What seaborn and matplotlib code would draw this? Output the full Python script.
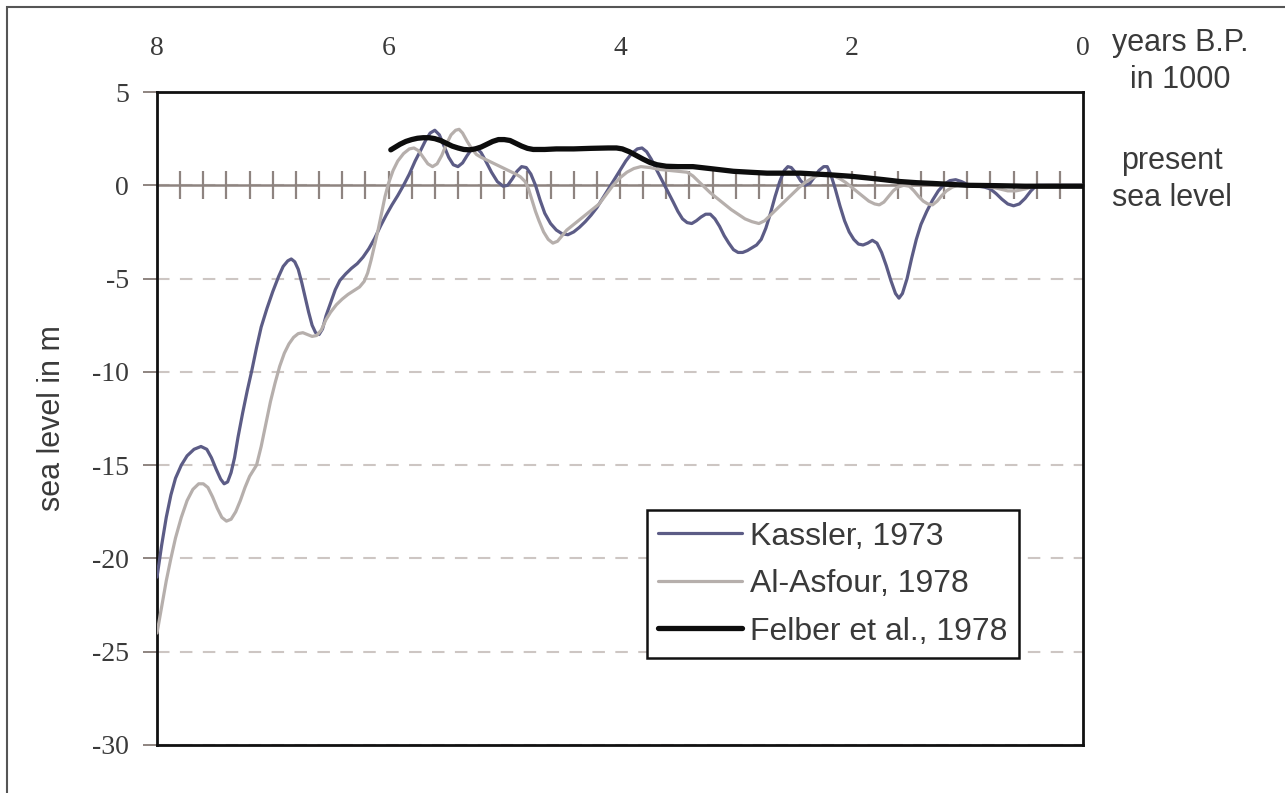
import numpy as np
import pandas as pd
import matplotlib
matplotlib.use("Agg")
import matplotlib.pyplot as plt
from matplotlib.patches import Rectangle
import seaborn as sns

# Holocene sea-level curves (age in 1000 years B.P., level in m relative to present)
kassler_ka = [8.00, 7.96, 7.92, 7.88, 7.84, 7.79, 7.74, 7.68, 7.62, 7.57, 7.53, 7.49,
              7.45, 7.42, 7.39, 7.36, 7.33, 7.30, 7.26, 7.22, 7.18, 7.14, 7.10, 7.05,
              7.00, 6.95, 6.91, 6.87, 6.84, 6.81, 6.78, 6.75, 6.72, 6.69, 6.66, 6.63,
              6.60, 6.57, 6.54, 6.50, 6.46, 6.42, 6.37, 6.32, 6.27, 6.22, 6.17, 6.12,
              6.07, 6.02, 5.97, 5.92, 5.87, 5.82, 5.77, 5.72, 5.68, 5.64, 5.60, 5.56,
              5.52, 5.48, 5.44, 5.40, 5.36, 5.32, 5.28, 5.24, 5.20, 5.16, 5.11, 5.06,
              5.01, 4.97, 4.93, 4.89, 4.85, 4.81, 4.77, 4.73, 4.69, 4.65, 4.60, 4.55,
              4.50, 4.45, 4.40, 4.35, 4.30, 4.25, 4.20, 4.15, 4.10, 4.05, 4.00, 3.95,
              3.90, 3.85, 3.81, 3.77, 3.73, 3.69, 3.64, 3.59, 3.54, 3.50, 3.46, 3.42,
              3.38, 3.34, 3.30, 3.26, 3.22, 3.18, 3.14, 3.10, 3.06, 3.02, 2.98, 2.94,
              2.90, 2.86, 2.82, 2.78, 2.74, 2.70, 2.66, 2.62, 2.58, 2.55, 2.52, 2.48,
              2.44, 2.40, 2.36, 2.32, 2.28, 2.24, 2.21, 2.18, 2.14, 2.10, 2.06, 2.02,
              1.98, 1.94, 1.90, 1.86, 1.82, 1.78, 1.74, 1.70, 1.66, 1.62, 1.59, 1.56,
              1.52, 1.48, 1.44, 1.40, 1.35, 1.30, 1.25, 1.20, 1.15, 1.10, 1.05, 1.00,
              0.95, 0.90, 0.85, 0.80, 0.75, 0.70, 0.65, 0.60, 0.55, 0.50, 0.45, 0.40,
              0.30, 0.15, 0.00]
kassler_m = [-21.0, -19.3, -17.8, -16.6, -15.7, -15.0, -14.5, -14.15, -14.0, -14.15, -14.6, -15.2,
             -15.75, -16.0, -15.9, -15.4, -14.6, -13.5, -12.2, -11.0, -9.9, -8.7, -7.6, -6.6,
             -5.7, -4.9, -4.35, -4.05, -3.95, -4.1, -4.5, -5.2, -6.0, -6.8, -7.5, -7.9,
             -8.0, -7.7, -7.0, -6.3, -5.6, -5.1, -4.75, -4.45, -4.2, -3.85, -3.4, -2.85,
             -2.2, -1.6, -1.05, -0.55, 0.0, 0.6, 1.3, 1.9, 2.4, 2.8, 2.95, 2.7,
             2.1, 1.5, 1.1, 1.0, 1.2, 1.6, 1.95, 2.0, 1.75, 1.3, 0.7, 0.2,
             -0.05, 0.0, 0.35, 0.75, 1.0, 0.95, 0.6, 0.0, -0.8, -1.5, -2.05, -2.4,
             -2.6, -2.65, -2.5, -2.25, -1.95, -1.6, -1.2, -0.7, -0.2, 0.3, 0.8, 1.3,
             1.7, 1.95, 2.0, 1.8, 1.4, 0.9, 0.3, -0.3, -0.9, -1.4, -1.8, -2.0,
             -2.05, -1.9, -1.7, -1.55, -1.55, -1.8, -2.2, -2.7, -3.1, -3.45, -3.6, -3.6,
             -3.5, -3.35, -3.2, -2.9, -2.3, -1.5, -0.6, 0.2, 0.8, 1.0, 0.95, 0.65,
             0.25, 0.0, 0.1, 0.45, 0.8, 1.0, 1.0, 0.6, -0.2, -1.1, -1.9, -2.5,
             -2.9, -3.15, -3.2, -3.1, -2.95, -3.1, -3.6, -4.3, -5.1, -5.8, -6.05, -5.8,
             -5.0, -3.9, -2.9, -2.1, -1.4, -0.8, -0.3, 0.05, 0.25, 0.3, 0.2, 0.05,
             0.0, -0.05, -0.1, -0.2, -0.45, -0.75, -1.0, -1.1, -1.0, -0.7, -0.3, 0.0,
             0.0, 0.0, 0.0]

asfour_ka = [8.00, 7.96, 7.92, 7.88, 7.84, 7.79, 7.74, 7.69, 7.64, 7.60, 7.56, 7.52,
             7.48, 7.44, 7.40, 7.36, 7.32, 7.28, 7.24, 7.20, 7.14, 7.10, 7.06, 7.02,
             6.98, 6.94, 6.90, 6.86, 6.82, 6.78, 6.74, 6.70, 6.66, 6.62, 6.58, 6.54,
             6.50, 6.45, 6.40, 6.35, 6.30, 6.25, 6.21, 6.18, 6.15, 6.12, 6.09, 6.06,
             6.03, 6.00, 5.96, 5.92, 5.87, 5.82, 5.78, 5.74, 5.70, 5.66, 5.62, 5.58,
             5.54, 5.50, 5.46, 5.42, 5.39, 5.36, 5.32, 5.28, 5.24, 5.20, 5.15, 5.10,
             5.05, 5.00, 4.95, 4.90, 4.86, 4.82, 4.79, 4.76, 4.73, 4.70, 4.66, 4.62,
             4.58, 4.54, 4.50, 4.46, 4.42, 4.36, 4.30, 4.24, 4.18, 4.12, 4.06, 4.00,
             3.94, 3.88, 3.82, 3.74, 3.66, 3.58, 3.50, 3.42, 3.37, 3.32, 3.27, 3.22,
             3.16, 3.10, 3.04, 2.98, 2.92, 2.86, 2.80, 2.75, 2.70, 2.65, 2.60, 2.55,
             2.50, 2.45, 2.40, 2.35, 2.30, 2.25, 2.20, 2.15, 2.10, 2.05, 2.00, 1.95,
             1.90, 1.85, 1.80, 1.76, 1.72, 1.68, 1.64, 1.60, 1.55, 1.50, 1.46, 1.42,
             1.38, 1.34, 1.30, 1.26, 1.22, 1.18, 1.13, 1.08, 0.95, 0.85, 0.75, 0.65,
             0.58, 0.50, 0.42, 0.30, 0.00]
asfour_m = [-24.0, -22.6, -21.2, -20.0, -18.9, -17.8, -16.9, -16.3, -16.0, -16.0, -16.2, -16.7,
            -17.3, -17.8, -18.0, -17.9, -17.5, -16.9, -16.2, -15.6, -15.0, -14.0, -12.8, -11.6,
            -10.6, -9.7, -9.0, -8.5, -8.15, -7.95, -7.9, -8.0, -8.1, -8.05, -7.75, -7.2,
            -6.8, -6.4, -6.1, -5.85, -5.65, -5.45, -5.15, -4.7, -4.0, -3.2, -2.4, -1.5,
            -0.6, 0.1, 0.8, 1.3, 1.7, 1.95, 2.0, 1.85, 1.5, 1.15, 1.0, 1.15,
            1.6, 2.2, 2.7, 2.95, 3.0, 2.8, 2.35, 1.95, 1.65, 1.5, 1.35, 1.2,
            1.05, 0.9, 0.75, 0.6, 0.45, 0.2, -0.2, -0.8, -1.4, -1.9, -2.5, -2.9,
            -3.1, -3.0, -2.7, -2.4, -2.2, -1.9, -1.6, -1.3, -1.0, -0.5, 0.0, 0.4,
            0.7, 0.9, 1.0, 0.95, 0.85, 0.8, 0.75, 0.7, 0.5, 0.2, -0.1, -0.4,
            -0.7, -1.0, -1.3, -1.55, -1.8, -1.95, -2.05, -1.9, -1.6, -1.3, -1.0, -0.7,
            -0.4, -0.1, 0.15, 0.35, 0.5, 0.55, 0.55, 0.5, 0.35, 0.15, -0.1, -0.35,
            -0.6, -0.85, -1.0, -1.05, -0.9, -0.6, -0.3, -0.1, 0.0, -0.05, -0.3, -0.6,
            -0.85, -1.0, -1.05, -0.85, -0.55, -0.3, -0.1, 0.0, 0.0, -0.05, -0.15, -0.3,
            -0.3, -0.2, -0.05, 0.0, 0.0]

felber_ka = [5.98, 5.94, 5.90, 5.85, 5.80, 5.75, 5.70, 5.65, 5.60, 5.55, 5.50, 5.45,
             5.40, 5.35, 5.30, 5.25, 5.20, 5.15, 5.10, 5.05, 5.00, 4.95, 4.90, 4.85,
             4.80, 4.75, 4.65, 4.55, 4.40, 4.25, 4.10, 4.03, 3.98, 3.92, 3.86, 3.80,
             3.74, 3.68, 3.60, 3.50, 3.37, 3.20, 3.02, 2.88, 2.73, 2.58, 2.44, 2.30,
             2.16, 2.00, 1.87, 1.72, 1.58, 1.44, 1.30, 1.15, 1.00, 0.75, 0.50, 0.25,
             0.00]
felber_m = [1.9, 2.05, 2.2, 2.35, 2.45, 2.52, 2.55, 2.55, 2.5, 2.4, 2.25, 2.1,
            2.0, 1.92, 1.9, 1.95, 2.05, 2.2, 2.35, 2.45, 2.45, 2.4, 2.25, 2.1,
            1.98, 1.92, 1.92, 1.95, 1.95, 1.98, 2.0, 2.0, 1.95, 1.8, 1.6, 1.4,
            1.22, 1.1, 1.02, 1.0, 1.0, 0.88, 0.75, 0.7, 0.65, 0.65, 0.65, 0.6,
            0.55, 0.48, 0.4, 0.3, 0.2, 0.14, 0.1, 0.05, 0.0, -0.02, -0.05, -0.05,
            -0.05]

series_labels = ["Kassler, 1973", "Al-Asfour, 1978", "Felber et al., 1978"]

age_ticks = [8, 6, 4, 2, 0]
age_tick_labels = ["8", "6", "4", "2", "0"]
level_ticks = [5, 0, -5, -10, -15, -20, -25, -30]
level_tick_labels = ["5", "0", "-5", "-10", "-15", "-20", "-25", "-30"]
century_ticks = [round(0.2 * k, 1) for k in range(1, 40)]

W, H = 1285, 793
sns.set_theme(style="white")
plt.rcParams["font.family"] = ["Liberation Sans", "DejaVu Sans"]

text_col = "#3a3a3a"
zero_col = "#8e8480"
serif = ["Liberation Serif", "DejaVu Serif"]

fig = plt.figure(figsize=(W / 100, H / 100), dpi=100)
fig.patch.set_facecolor("white")
ax = fig.add_axes([157 / W, 1 - 745 / H, 926 / W, 653 / H])

styles = [
    (kassler_ka, kassler_m, "#5c5c86", 2.3),
    (asfour_ka, asfour_m, "#b6afac", 2.3),
    (felber_ka, felber_m, "#0d0d0d", 3.8),
]
for (ka, m, col, lw), lab in zip(styles, series_labels):
    df = pd.DataFrame({"age": ka, "level": m})
    sns.lineplot(data=df, x="age", y="level", ax=ax, color=col, linewidth=lw,
                 label=lab, estimator=None, sort=False, zorder=3)
for line in ax.get_lines():
    line.set_solid_joinstyle("round")
    line.set_solid_capstyle("round")

ax.set_xlim(8, 0)
ax.set_ylim(-30, 5)

# age axis on top, labels only
ax.xaxis.tick_top()
ax.set_xticks(age_ticks)
ax.set_xticklabels(age_tick_labels, fontfamily=serif, fontsize=20, color=text_col)
ax.tick_params(axis="x", length=0, pad=22.5)
ax.set_xlabel("")

ax.set_yticks(level_ticks)
ax.set_yticklabels(level_tick_labels, fontfamily=serif, fontsize=20, color=text_col)
ax.tick_params(axis="y", direction="out", length=10, width=1.4, color=zero_col, pad=10, left=True)
ax.set_ylabel("sea level in m", fontsize=22, color=text_col, va="center")
ax.yaxis.set_label_coords(-0.1134, 0.5)

ax.yaxis.grid(True, linestyle=(0, (6, 5)), color="#cdc6c3", linewidth=1.5)
ax.xaxis.grid(False)
ax.set_axisbelow(True)

for side in ["left", "right", "top", "bottom"]:
    ax.spines[side].set_visible(True)
    ax.spines[side].set_color("#111111")
    ax.spines[side].set_linewidth(2.0)

# present sea level line with century ticks
zero_frac = (0 - (-30)) / (5 - (-30))
sec = ax.secondary_xaxis(zero_frac)
sec.set_zorder(2)
sec.set_xticks(century_ticks)
sec.tick_params(direction="inout", length=20, width=1.6, color=zero_col,
                labeltop=False, labelbottom=False)
for side in ["top", "bottom"]:
    sec.spines[side].set_color(zero_col)
    sec.spines[side].set_linewidth(1.8)

leg = ax.legend(loc="lower left", bbox_to_anchor=(0.529, 0.133), borderaxespad=0,
                frameon=True, fancybox=False, framealpha=1, edgecolor="#111111",
                fontsize=23, handlelength=2.63, handletextpad=0.25, labelspacing=0.55,
                borderpad=0.36, labelcolor=text_col)
leg.get_frame().set_linewidth(1.8)
leg.set_zorder(5)

fig.text(1180 / W, 1 - 43 / H, "years B.P.", ha="center", va="center", fontsize=22, color=text_col)
fig.text(1180 / W, 1 - 80 / H, "in 1000", ha="center", va="center", fontsize=22, color=text_col)
fig.text(1172 / W, 1 - 161 / H, "present", ha="center", va="center", fontsize=22, color=text_col)
fig.text(1172 / W, 1 - 198 / H, "sea level", ha="center", va="center", fontsize=22, color=text_col)

frame = Rectangle((7 / W, -0.1), 1.2, 1 - 7 / H + 0.1, transform=fig.transFigure,
                  fill=False, edgecolor="#555555", linewidth=1.5, clip_on=False)
fig.add_artist(frame)

fig.savefig("out.png", dpi=100)
